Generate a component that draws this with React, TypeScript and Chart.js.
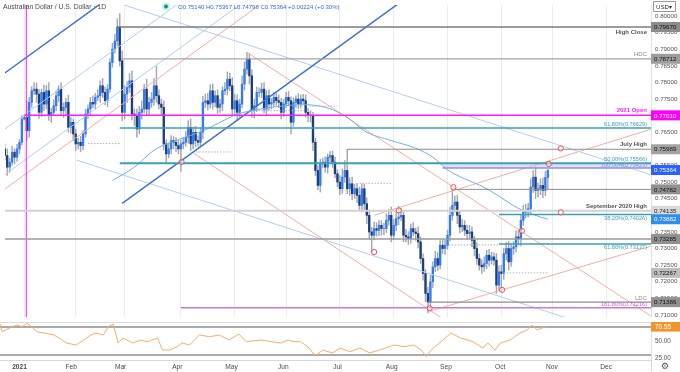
import React, { useEffect, useRef } from "react";
import { Chart, registerables } from "chart.js";
Chart.register(...registerables);

const FONT = '"Liberation Sans", Arial, Helvetica, sans-serif';
Chart.defaults.font.family = FONT;

// ---------- time axis (bar index: 0 = 1 Jan 2021, one slot per weekday) ----------
const monthStarts = [0, 21, 41, 64, 86, 107, 129, 151, 173, 195, 216, 238];
const monthLabels = ["2021", "Feb", "Mar", "Apr", "May", "Jun", "Jul", "Aug", "Sep", "Oct", "Nov", "Dec"];
const X_MIN = -7.91;
const X_MAX = 256.19;
const PRICE_MIN = 0.70939;
const PRICE_MAX = 0.80332;
const RSI_MIN = 22.86;
const RSI_MAX = 77.14;

// ---------- daily closes ----------
const firstIndex = -8;
const firstOpen = 0.76;
const closeDec20 = [0.7580, 0.7545, 0.7560, 0.7590, 0.7575, 0.7600, 0.7620, 0.7690];
const closeJan = [0.7695, 0.7655, 0.7740, 0.7775, 0.7780, 0.7765, 0.7710, 0.7770, 0.7735, 0.7775, 0.7700, 0.7710, 0.7730, 0.7760, 0.7780, 0.7715, 0.7725, 0.7740, 0.7665, 0.7680, 0.7645];
const closeFeb = [0.7615, 0.7620, 0.7610, 0.7645, 0.7705, 0.7720, 0.7740, 0.7735, 0.7755, 0.7760, 0.7790, 0.7770, 0.7745, 0.7780, 0.7860, 0.7900, 0.7925, 0.7967, 0.7865, 0.7710];
const closeMar = [0.7765, 0.7785, 0.7805, 0.7705, 0.7700, 0.7660, 0.7710, 0.7720, 0.7780, 0.7720, 0.7740, 0.7750, 0.7790, 0.7760, 0.7735, 0.7725, 0.7615, 0.7585, 0.7600, 0.7625, 0.7620, 0.7610, 0.7600];
const closeApr = [0.7615, 0.7620, 0.7635, 0.7665, 0.7615, 0.7650, 0.7625, 0.7620, 0.7650, 0.7740, 0.7745, 0.7735, 0.7775, 0.7740, 0.7760, 0.7725, 0.7735, 0.7775, 0.7780, 0.7810, 0.7790, 0.7720];
const closeMay = [0.7745, 0.7710, 0.7735, 0.7795, 0.7840, 0.7871, 0.7820, 0.7715, 0.7730, 0.7770, 0.7770, 0.7780, 0.7720, 0.7760, 0.7735, 0.7740, 0.7755, 0.7745, 0.7740, 0.7710, 0.7735];
const closeJun = [0.7755, 0.7745, 0.7680, 0.7740, 0.7750, 0.7735, 0.7750, 0.7745, 0.7710, 0.7700, 0.7700, 0.7620, 0.7535, 0.7490, 0.7555, 0.7560, 0.7545, 0.7575, 0.7580, 0.7560, 0.7525, 0.7500];
const closeJul = [0.7480, 0.7515, 0.7535, 0.7480, 0.7495, 0.7465, 0.7480, 0.7460, 0.7430, 0.7480, 0.7435, 0.7400, 0.7350, 0.7340, 0.7360, 0.7355, 0.7370, 0.7360, 0.7360, 0.7385, 0.7400, 0.7340];
const closeAug = [0.7370, 0.7390, 0.7395, 0.7400, 0.7340, 0.7335, 0.7330, 0.7360, 0.7350, 0.7345, 0.7320, 0.7270, 0.7225, 0.7165, 0.7139, 0.7200, 0.7245, 0.7270, 0.7250, 0.7310, 0.7300, 0.7310];
const closeSep = [0.7340, 0.7400, 0.7430, 0.7440, 0.7400, 0.7365, 0.7370, 0.7355, 0.7345, 0.7350, 0.7325, 0.7300, 0.7270, 0.7250, 0.7245, 0.7255, 0.7280, 0.7265, 0.7275, 0.7265, 0.7190, 0.7230];
const closeOct = [0.7225, 0.7285, 0.7300, 0.7260, 0.7300, 0.7305, 0.7335, 0.7330, 0.7385, 0.7410, 0.7415, 0.7420, 0.7485, 0.7515, 0.7475, 0.7480, 0.7490, 0.7475, 0.7514, 0.75364];

// upper / lower wicks in pips beyond the candle body
const wickUp = [
  15, 20, 12, 18, 10, 14, 8, 10,
  5, 50, 15, 12, 20, 18, 14, 10, 22, 16, 25, 12, 18, 15, 10, 20, 14, 12, 22, 15, 10,
  15, 12, 18, 10, 14, 12, 15, 20, 12, 18, 15, 22, 16, 14, 12, 18, 20, 25, 40, 30,
  25, 18, 22, 30, 15, 20, 18, 25, 14, 30, 16, 20, 22, 59, 18, 15, 20, 12, 18, 15, 12, 14, 16,
  12, 15, 18, 20, 25, 15, 18, 14, 12, 18, 20, 22, 18, 20, 15, 18, 14, 12, 20, 22, 18, 25,
  20, 18, 15, 25, 22, 20, 15, 18, 20, 16, 14, 18, 20, 15, 18, 12, 16, 14, 18, 12, 14,
  15, 18, 12, 14, 10, 16, 12, 14, 18, 12, 15, 10, 12, 15, 14, 12, 16, 10, 12, 14, 15, 12,
  20, 25, 30, 64, 18, 20, 14, 16, 25, 15, 14, 18, 16, 14, 20, 18, 15, 14, 16, 20, 18, 25,
  18, 22, 32, 20, 15, 18, 16, 14, 18, 12, 20, 15, 14, 12, 18, 20, 15, 22, 18, 14, 16, 15,
  15, 25, 48, 18, 20, 15, 18, 14, 16, 20, 15, 12, 18, 14, 16, 20, 15, 18, 14, 12, 20, 18,
  20, 15, 18, 22, 14, 16, 18, 20, 15, 20, 18, 16, 25, 20, 31, 18, 20, 22, 18, 0,
];
const wickDown = [
  12, 25, 15, 10, 20, 12, 15, 8,
  3, 30, 20, 15, 12, 25, 18, 12, 20, 15, 14, 20, 10, 15, 18, 12, 20, 25, 15, 18, 20,
  20, 15, 18, 12, 10, 14, 18, 12, 15, 10, 20, 15, 12, 18, 10, 14, 12, 15, 15, 25,
  20, 25, 15, 18, 30, 25, 15, 20, 12, 18, 20, 15, 18, 20, 15, 22, 18, 25, 12, 15, 20, 18, 15,
  68, 15, 12, 18, 20, 15, 18, 12, 14, 20, 15, 18, 12, 20, 14, 18, 15, 20, 12, 18, 15, 20,
  18, 22, 15, 12, 18, 15, 25, 20, 22, 18, 14, 16, 12, 20, 18, 15, 12, 14, 16, 20, 12,
  12, 14, 35, 12, 15, 14, 12, 10, 15, 18, 20, 25, 15, 13, 20, 12, 15, 18, 14, 16, 12, 14,
  18, 14, 16, 15, 20, 18, 15, 22, 14, 20, 18, 25, 22, 51, 14, 18, 16, 20, 18, 12, 15, 20,
  14, 16, 18, 12, 20, 15, 18, 14, 12, 20, 18, 15, 20, 25, 33, 15, 18, 14, 16, 12, 15, 18,
  12, 18, 15, 20, 25, 18, 14, 16, 18, 15, 20, 22, 18, 15, 20, 14, 16, 18, 12, 15, 25, 14,
  55, 18, 20, 25, 14, 18, 16, 20, 22, 15, 18, 20, 14, 16, 25, 20, 18, 22, 16, 34,
];

// ---------- moving average ----------
const maIdx = [36, 45, 53, 63, 73, 80, 87, 95, 103, 114, 120, 126, 133, 139, 150, 160, 167, 173, 180, 187, 194, 200, 207, 214];
const maVal = [0.7505, 0.7545, 0.7596, 0.7628, 0.7654, 0.768, 0.7704, 0.7718, 0.7727, 0.7733, 0.773, 0.7718, 0.769, 0.7654, 0.7625, 0.7602, 0.7575, 0.7537, 0.751, 0.7488, 0.7458, 0.7429, 0.7405, 0.73882];

// ---------- RSI ----------
const rsiIdx = [-8, -7, -4, -1, 1, 3, 5, 7, 10, 14, 16, 19, 23, 26, 29, 31, 34, 36, 38, 40, 42, 46, 49, 52, 56, 58, 61, 64, 66, 69, 73, 77, 81, 85, 89, 92, 98, 102, 106, 109, 111, 114, 117, 120, 123, 127, 130, 134, 138, 142, 146, 152, 156, 160, 163, 165, 167, 171, 175, 179, 184, 188, 190, 193, 195, 199, 203, 206, 208, 210, 212, 214];
const rsiVal = [75.3, 63.3, 68.6, 72.9, 70.4, 75.3, 70.4, 63.3, 61.4, 58.6, 54.3, 47.1, 44.3, 51.4, 58.6, 61.4, 58.6, 70.4, 74.3, 47.1, 54.3, 47.1, 51.4, 49, 54.3, 37.1, 37.1, 41.9, 47.1, 44.3, 58.6, 56.1, 58.6, 51.4, 60, 49, 51.4, 49, 47.1, 51.4, 49, 49, 41.9, 28.6, 37.1, 32.9, 40, 34.7, 40, 32.9, 37.1, 44.3, 41.9, 44.3, 37.1, 27.6, 37.1, 49, 61.4, 54.3, 49, 40, 47.1, 37.1, 47.1, 51.4, 61.4, 65.7, 72.9, 65.7, 68.6, 70.55];
const rsiLevels = [70, 30];
const rsiTicks = [25, 50, 75];
const rsiLast = 70.55;

// ---------- price levels ----------
const levelValues = [0.7967, 0.78712, 0.7701, 0.76629, 0.75989, 0.75566, 0.75423, 0.74782, 0.74135, 0.74026, 0.73285, 0.73137, 0.71386, 0.71216];
const levelStarts = [38, 39.5, 0, 39, 132, 39, 171, 175, -8, 194, -8, 194, 165, 64];
const levelNotes = ["High Close", "HDC", "2021 Open", "61.80%(0.76629)", "July High", "50.00%(0.75566)", "100.00%(0.75423)", "", "September 2020 High", "38.20%(0.74026)", "", "61.80%(0.73137)", "LDC", "161.80%(0.71216)"];
const axisMarks = [0.7967, 0.78712, 0.7701, 0.75989, 0.75364, 0.74782, 0.74135, 0.73882, 0.73285, 0.72267, 0.71386];
const priceTicks = [0.71, 0.715, 0.72, 0.725, 0.73, 0.735, 0.74, 0.745, 0.75, 0.755, 0.76, 0.765, 0.77, 0.775, 0.78, 0.785, 0.79, 0.795, 0.8];
const openingLineIdx = 0.8;

// pivot (dotted) segments: [startIdx, endIdx, price]
const pivotSegments = [[26, 39.5, 0.7616], [69, 85, 0.75907], [92, 114, 0.7715], [116.6, 128, 0.77289], [137, 150, 0.74965], [173.4, 194, 0.73106], [196, 214, 0.72267]];

// trend lines: [idx0, price0, idx1, price1]
const trendLines = [
  [-8, 0.78286, 256, 0.92332],
  [-8, 0.76598, 256, 0.90644],
  [-8, 0.75227, 256, 0.89273],
  [-8, 0.7479, 256, 0.88836],
  [40, 0.74361, 256, 0.8586],
  [40.8, 0.80332, 256.2, 0.75221],
  [21.3, 0.75665, 235.5, 0.70583],
  [91, 0.7891, 256, 0.70976],
  [69.2, 0.75869, 200, 0.69472],
  [143, 0.74002, 256, 0.76589],
  [165.7, 0.71114, 256, 0.73066],
];

// pivot markers
const markerIdx = [64.3, 143, 153.1, 165.7, 175.4, 195.3, 203.4, 214.4, 219.3, 219.3];
const markerVal = [0.75606, 0.72894, 0.74148, 0.71201, 0.74848, 0.71756, 0.73535, 0.75548, 0.76015, 0.74089];

const titleText = "Australian Dollar / U.S. Dollar \u00b7 1D";
const ohlcText = "O0.75140 H0.75367 L0.74796 C0.75364 +0.00224 (+0.30%)";

// ---------- styles ----------
const UP = "#2f7cf4";
const DOWN = "#1d3d7b";
const WICK = "#a3a7b0";
const TEAL = "#3c9fb8";
const trendColors = ["#3d72d8", "#b3cdf4", "#b3cdf4", "#f5aca6", "#3d72d8", "#b3cdf4", "#b3cdf4", "#f5aca6", "#f5aca6", "#f5aca6", "#f5aca6"];
const trendWidths = [1.5, 1, 1, 1, 1.5, 1, 1, 1, 1, 1, 1];
const levelColors = ["#7d7d7d", "#a5a5a5", "#ff1cff", TEAL, "#8e8e8e", TEAL, "#8f90e0", "#8e8e8e", "#d2d2d2", TEAL, "#9a9a9a", TEAL, "#8e8e8e", "#c77ad6"];
const levelWidths = [1.5, 1.2, 1.5, 1.5, 1, 2, 1.5, 1, 2, 1.5, 1.5, 1.5, 1.2, 1.5];
const noteColors = ["#555", "#8a8a8a", "#ff1cff", TEAL, "#555", TEAL, "#8f90e0", "#555", "#555", TEAL, "#555", TEAL, "#8a8a8a", "#c06ad0"];
const noteBold = [true, false, true, false, true, false, false, false, true, false, false, false, false, false];
const noteOffsets = [5, -4, -5, -4, -5, -4, -3, 0, -4.5, 4, 0, 3.5, -4, -3.5];
const markBg = ["#8c8c8c", "#9d9d9d", "#ff00ff", "#a2a2a2", "#2962ff", "#909090", "#d9d9d9", "#2f8cf0", "#909090", "#bdbdbd", "#909090"];
const markFg = ["#111", "#111", "#fff", "#111", "#fff", "#111", "#222", "#fff", "#111", "#111", "#111"];

function buildCandles() {
  const closes = [...closeDec20, ...closeJan, ...closeFeb, ...closeMar, ...closeApr, ...closeMay, ...closeJun, ...closeJul, ...closeAug, ...closeSep, ...closeOct];
  const bodies: any[] = [];
  const wicks: any[] = [];
  const colors: string[] = [];
  let prev = firstOpen;
  closes.forEach((c, i) => {
    const o = prev;
    const hi = Math.max(o, c) + wickUp[i] * 0.0001;
    const lo = Math.min(o, c) - wickDown[i] * 0.0001;
    const x = firstIndex + i;
    bodies.push({ x, y: [Math.min(o, c), Math.max(o, c)] });
    wicks.push({ x, y: [lo, hi] });
    colors.push(c >= o ? UP : DOWN);
    prev = c;
  });
  return { bodies, wicks, colors };
}

function noPad(s: any) {
  s.paddingTop = 0;
  s.paddingBottom = 0;
  s.paddingLeft = 0;
  s.paddingRight = 0;
}

const priceOverlay = {
  id: "priceOverlay",
  afterDraw(chart: any) {
    const ctx = chart.ctx;
    const y = chart.scales.y;
    const right = chart.chartArea.right;
    ctx.save();
    ctx.textAlign = "right";
    ctx.textBaseline = "middle";
    levelValues.forEach((v, i) => {
      if (!levelNotes[i]) return;
      const fib = levelNotes[i].indexOf("%") >= 0;
      ctx.font = `${noteBold[i] ? "bold " : ""}${fib ? 5.6 : 6}px ${FONT}`;
      ctx.fillStyle = noteColors[i];
      ctx.fillText(levelNotes[i], right - 4, y.getPixelForValue(v) + noteOffsets[i]);
    });
    ctx.textAlign = "left";
    ctx.font = `6.2px ${FONT}`;
    axisMarks.forEach((v, i) => {
      const py = y.getPixelForValue(v);
      ctx.fillStyle = markBg[i];
      ctx.fillRect(right, py - 5, 29, 10);
      ctx.fillStyle = markFg[i];
      ctx.fillText(v.toFixed(5), right + 3, py + 0.5);
    });
    ctx.font = `6.8px ${FONT}`;
    ctx.fillStyle = "#4d4d4d";
    ctx.fillText(titleText, 3, 7);
    ctx.fillStyle = "rgba(8,153,129,0.18)";
    ctx.beginPath();
    ctx.arc(166, 6.5, 4, 0, Math.PI * 2);
    ctx.fill();
    ctx.fillStyle = "#089981";
    ctx.beginPath();
    ctx.arc(166, 6.5, 2, 0, Math.PI * 2);
    ctx.fill();
    ctx.font = `6px ${FONT}`;
    ctx.fillStyle = "#2f6ce5";
    ctx.fillText(ohlcText, 178, 7);
    ctx.fillStyle = "#fff";
    ctx.strokeStyle = "#9a9a9a";
    ctx.lineWidth = 1;
    ctx.beginPath();
    ctx.rect(653.5, 1.5, 22, 10);
    ctx.fill();
    ctx.stroke();
    ctx.fillStyle = "#333";
    ctx.font = `6.2px ${FONT}`;
    ctx.fillText("USD\u25be", 656, 7);
    ctx.restore();
  },
};

const rsiOverlay = {
  id: "rsiOverlay",
  afterDraw(chart: any) {
    const ctx = chart.ctx;
    const { right, top, bottom } = chart.chartArea;
    const y = chart.scales.y;
    ctx.save();
    ctx.strokeStyle = "#dcdcdc";
    ctx.lineWidth = 1;
    ctx.beginPath();
    ctx.moveTo(0, top + 0.5);
    ctx.lineTo(right, top + 0.5);
    ctx.moveTo(right + 0.5, bottom);
    ctx.lineTo(right + 0.5, chart.height);
    ctx.stroke();
    const py = y.getPixelForValue(rsiLast);
    ctx.fillStyle = "#f0952e";
    ctx.fillRect(right, py - 5, 29, 10);
    ctx.fillStyle = "#fff";
    ctx.font = `6.4px ${FONT}`;
    ctx.textAlign = "left";
    ctx.textBaseline = "middle";
    ctx.fillText(rsiLast.toFixed(2), right + 4, py + 0.5);
    ctx.fillStyle = "#555";
    ctx.font = `9px "DejaVu Sans"`;
    ctx.textAlign = "center";
    ctx.fillText("\u2699", 665, 44.5);
    ctx.restore();
  },
};

export default function App() {
  const priceRef = useRef<HTMLCanvasElement>(null);
  const rsiRef = useRef<HTMLCanvasElement>(null);

  useEffect(() => {
    const { bodies, wicks, colors } = buildCandles();
    const datasets: any[] = [];

    datasets.push({ type: "bar", data: wicks, backgroundColor: WICK, barThickness: 0.8, grouped: false, order: 20 });
    datasets.push({ type: "bar", data: bodies, backgroundColor: colors, barThickness: 1.7, grouped: false, order: 19 });

    datasets.push({
      data: [{ x: 171, y: 0.75423 }, { x: X_MAX, y: 0.75423 }],
      borderWidth: 0,
      backgroundColor: "rgba(165,165,235,0.35)",
      fill: { value: 0.75566 },
      order: 12,
    });

    pivotSegments.forEach(([a, b, p]) => {
      datasets.push({
        data: [{ x: a, y: p }, { x: b, y: p }],
        borderColor: "#b4b4b4",
        borderWidth: 1,
        borderDash: [1.5, 1.5],
        order: 11,
      });
    });

    trendLines.forEach(([a, pa, b, pb], i) => {
      datasets.push({
        data: [{ x: a, y: pa }, { x: b, y: pb }],
        borderColor: trendColors[i],
        borderWidth: trendWidths[i],
        order: 10,
      });
    });

    datasets.push({
      data: maIdx.map((x, i) => ({ x, y: maVal[i] })),
      borderColor: "#6eb0ec",
      borderWidth: 1,
      cubicInterpolationMode: "monotone",
      order: 9,
    });

    levelValues.forEach((v, i) => {
      datasets.push({
        data: [{ x: levelStarts[i], y: v }, { x: X_MAX, y: v }],
        borderColor: levelColors[i],
        borderWidth: levelWidths[i],
        order: 8,
      });
    });

    datasets.push({
      data: [{ x: openingLineIdx, y: PRICE_MIN - 0.01 }, { x: openingLineIdx, y: PRICE_MAX + 0.01 }],
      borderColor: "#ff1cff",
      borderWidth: 1,
      order: 8,
    });

    datasets.push({
      data: markerIdx.map((x, i) => ({ x, y: markerVal[i] })),
      showLine: false,
      pointRadius: 2.6,
      pointBorderWidth: 1,
      pointBorderColor: "#ef5350",
      pointBackgroundColor: "rgba(255,255,255,0.4)",
      order: 1,
    });

    const monthTicks = (s: any) => {
      s.ticks = monthStarts.map((v) => ({ value: v }));
    };

    const price = new Chart(priceRef.current as HTMLCanvasElement, {
      type: "line",
      data: { datasets },
      options: {
        animation: false,
        responsive: false,
        devicePixelRatio: 1,
        events: [],
        layout: { padding: 0 },
        elements: { point: { radius: 0 }, line: { tension: 0 } },
        plugins: { legend: { display: false }, tooltip: { enabled: false } },
        scales: {
          x: {
            type: "linear",
            min: X_MIN,
            max: X_MAX,
            offset: false,
            afterBuildTicks: monthTicks,
            afterFit: (s: any) => {
              s.height = 0;
              noPad(s);
            },
            ticks: { display: false },
            grid: { color: "#ececec", lineWidth: 1, drawTicks: false, offset: false },
            border: { display: false },
          },
          y: {
            type: "linear",
            position: "right",
            min: PRICE_MIN,
            max: PRICE_MAX,
            afterBuildTicks: (s: any) => {
              s.ticks = priceTicks.map((v) => ({ value: v }));
            },
            afterFit: (s: any) => {
              s.width = 29;
              noPad(s);
            },
            ticks: {
              padding: 4,
              autoSkip: false,
              color: "#555",
              font: { size: 6.2, family: FONT },
              callback: (v: any) => Number(v).toFixed(5),
            },
            grid: { display: false, drawTicks: false },
            border: { display: true, color: "#e2e2e2" },
          },
        },
      } as any,
      plugins: [priceOverlay],
    } as any);

    const rsiSets: any[] = [
      {
        data: rsiIdx.map((x, i) => ({ x, y: rsiVal[i] })),
        borderColor: "#f6ad6b",
        borderWidth: 1,
        order: 1,
      },
      ...rsiLevels.map((v) => ({
        data: [{ x: X_MIN, y: v }, { x: X_MAX, y: v }],
        borderColor: "#8e8e8e",
        borderWidth: 1.5,
        order: 2,
      })),
    ];

    const rsi = new Chart(rsiRef.current as HTMLCanvasElement, {
      type: "line",
      data: { datasets: rsiSets },
      options: {
        animation: false,
        responsive: false,
        devicePixelRatio: 1,
        events: [],
        layout: { padding: 0 },
        elements: { point: { radius: 0 }, line: { tension: 0 } },
        plugins: { legend: { display: false }, tooltip: { enabled: false } },
        scales: {
          x: {
            type: "linear",
            min: X_MIN,
            max: X_MAX,
            offset: false,
            afterBuildTicks: monthTicks,
            afterFit: (s: any) => {
              s.height = 12;
              noPad(s);
            },
            ticks: {
              padding: 3,
              autoSkip: false,
              maxRotation: 0,
              color: "#4a4a4a",
              font: (c: any) => ({ size: 6.6, family: FONT, weight: c.tick && c.tick.value === 0 ? "bold" : "normal" }),
              callback: (v: any) => monthLabels[monthStarts.indexOf(Number(v))],
            },
            grid: { display: false, drawTicks: false },
            border: { display: true, color: "#d8d8d8" },
          },
          y: {
            type: "linear",
            position: "right",
            min: RSI_MIN,
            max: RSI_MAX,
            afterBuildTicks: (s: any) => {
              s.ticks = rsiTicks.map((v) => ({ value: v }));
            },
            afterFit: (s: any) => {
              s.width = 29;
              noPad(s);
            },
            ticks: {
              padding: 4,
              autoSkip: false,
              color: "#555",
              font: { size: 6.3, family: FONT },
              callback: (v: any) => Number(v).toFixed(2),
            },
            grid: { display: false, drawTicks: false },
            border: { display: true, color: "#e2e2e2" },
          },
        },
      } as any,
      plugins: [rsiOverlay],
    } as any);

    return () => {
      price.destroy();
      rsi.destroy();
    };
  }, []);

  return (
    <div style={{ position: "absolute", left: 0, top: 0, width: 680, height: 372, background: "#fff", overflow: "hidden" }}>
      <canvas ref={priceRef} width={680} height={322} style={{ position: "absolute", left: 0, top: 0, width: 680, height: 322 }} />
      <canvas ref={rsiRef} width={680} height={50} style={{ position: "absolute", left: 0, top: 322, width: 680, height: 50 }} />
    </div>
  );
}
